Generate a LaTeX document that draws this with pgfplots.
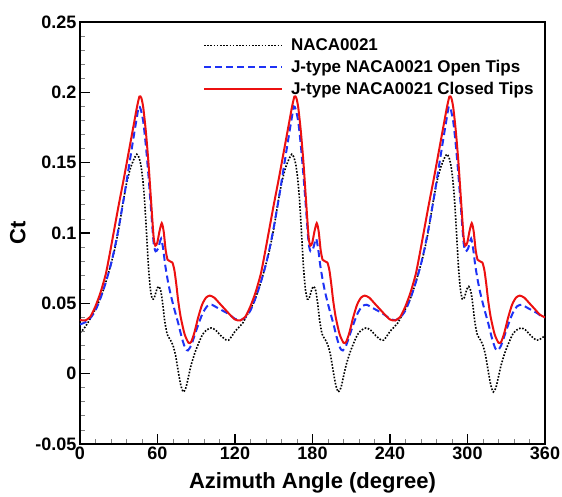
\documentclass[border=0pt]{standalone}
\usepackage{fontspec}
\setmainfont{Liberation Sans}
\usepackage{pgfplots}
\pgfplotsset{compat=1.18}
\definecolor{ctred}{RGB}{236,16,16}
\definecolor{ctblue}{RGB}{30,50,245}
\newcommand{\legfont}{\fontsize{17}{19}\selectfont\bfseries}

\begin{document}
\begin{tikzpicture}
\useasboundingbox (-80pt,-52pt) rectangle (482pt,444pt);
\begin{axis}[
    scale only axis,
    width=465pt, height=422pt,
    xmin=0, xmax=360, ymin=-0.05, ymax=0.25,
    xtick={0,60,120,180,240,300,360},
    xticklabels={0,60,120,180,240,300,360},
    ytick={-0.05,0,0.05,0.1,0.15,0.2,0.25},
    yticklabels={-0.05,0,0.05,0.1,0.15,0.2,0.25},
    minor x tick num=4, minor y tick num=4,
    xtick pos=left, ytick pos=left, tick align=inside,
    major tick length=10pt, minor tick length=5pt,
    every minor tick/.style={gray, line width=0.8pt},
    every major tick/.style={black, line width=1.6pt},
    axis line style={line width=1.6pt},
    ticklabel style={font=\fontsize{18}{18}\selectfont\bfseries},
    xticklabel style={yshift=1pt},
    xlabel={Azimuth Angle (degree)},
    ylabel={Ct},
    label style={font=\fontsize{22}{22}\selectfont\bfseries},
    xlabel style={yshift=-6pt},
    ylabel style={yshift=3pt},
    legend style={draw=none, fill=none, at={(0.262,0.968)}, anchor=north west,
        row sep=4pt, inner sep=1pt},
    legend cell align=left,
    legend image code/.code={\draw[#1] (0pt,0pt) -- (78pt,0pt);
        \path (84pt,0pt);},
]
\addplot[black, line width=1.6pt, dash pattern=on 1.6pt off 1.6pt, smooth, tension=0.4] coordinates {
(0,0.029)(3,0.032)(6,0.036)(9,0.041)(12,0.046)(16,0.054)(20,0.065)(24,0.078)(27,0.089)(30,0.103)(33,0.120)(36,0.135)(39,0.146)(42,0.153)(44,0.156)(45.5,0.154)(47,0.149)(48.5,0.139)(50,0.123)(51.5,0.100)(53,0.076)(54.5,0.060)(56,0.053)(57.5,0.054)(59.5,0.060)(61,0.062)(62.5,0.059)(64,0.050)(65.5,0.038)(67.5,0.028)(70,0.024)(72,0.020)(74,0.013)(76,0.002)(78,-0.008)(80,-0.013)(82,-0.010)(84,-0.002)(86,0.006)(89,0.015)(92,0.022)(95,0.028)(98,0.031)(101.5,0.0325)(105,0.031)(109,0.027)(113,0.024)(115,0.0238)(117,0.026)
(120,0.030)(123,0.033)(126,0.036)(129,0.041)(132,0.046)(136,0.054)(140,0.065)(144,0.078)(147,0.089)(150,0.103)(153,0.120)(156,0.135)(159,0.146)(162,0.153)(164,0.156)(165.5,0.154)(167,0.149)(168.5,0.139)(170,0.123)(171.5,0.100)(173,0.076)(174.5,0.060)(176,0.053)(177.5,0.054)(179.5,0.060)(181,0.062)(182.5,0.059)(184,0.050)(185.5,0.038)(187.5,0.028)(190,0.024)(192,0.020)(194,0.013)(196,0.002)(198,-0.008)(200,-0.013)(202,-0.010)(204,-0.002)(206,0.006)(209,0.015)(212,0.022)(215,0.028)(218,0.031)(221.5,0.0325)(225,0.031)(229,0.027)(233,0.024)(235,0.0238)(237,0.026)
(240,0.030)(243,0.033)(246,0.036)(249,0.041)(252,0.046)(256,0.054)(260,0.065)(264,0.078)(267,0.089)(270,0.103)(273,0.120)(276,0.135)(279,0.146)(282,0.153)(284,0.156)(285.5,0.154)(287,0.149)(288.5,0.139)(290,0.123)(291.5,0.100)(293,0.076)(294.5,0.060)(296,0.053)(297.5,0.054)(299.5,0.060)(301,0.062)(302.5,0.059)(304,0.050)(305.5,0.038)(307.5,0.028)(310,0.024)(312,0.020)(314,0.013)(316,0.002)(318,-0.008)(320,-0.013)(322,-0.010)(324,-0.002)(326,0.006)(329,0.015)(332,0.022)(335,0.028)(338,0.031)(341.5,0.0325)(345,0.031)(349,0.027)(353,0.024)(355,0.0238)(357,0.025)(360,0.027)
};
\addlegendentry{\legfont NACA0021}
\addplot[ctblue, line width=2pt, dash pattern=on 7pt off 4pt, smooth, tension=0.4] coordinates {
(0,0.035)(4,0.0365)(8,0.0395)(12,0.045)(16,0.054)(20,0.065)(24,0.078)(27,0.090)(30,0.104)(34,0.125)(38,0.148)(42,0.171)(44,0.182)(45.5,0.190)(47,0.188)(49,0.179)(51,0.162)(53,0.141)(55,0.117)(57,0.093)(58.5,0.087)(60.5,0.089)(62.8,0.096)(64.5,0.088)(66,0.077)(68,0.066)(70,0.057)(73,0.046)(76,0.036)(79,0.025)(81.5,0.018)(83.5,0.0165)(86,0.020)(89,0.028)(92,0.036)(95,0.043)(98.5,0.048)(102,0.049)(106,0.047)(110,0.045)(114,0.043)(117,0.041)
(120,0.039)(124,0.038)(128,0.040)(132,0.045)(136,0.054)(140,0.065)(144,0.078)(147,0.090)(150,0.104)(154,0.125)(158,0.148)(162,0.171)(164,0.182)(165.5,0.190)(167,0.188)(169,0.179)(171,0.162)(173,0.141)(175,0.117)(177,0.093)(178.5,0.087)(180.5,0.089)(182.8,0.096)(184.5,0.088)(186,0.077)(188,0.066)(190,0.057)(193,0.046)(196,0.036)(199,0.025)(201.5,0.018)(203.5,0.0165)(206,0.020)(209,0.028)(212,0.036)(215,0.043)(218.5,0.048)(222,0.049)(226,0.047)(230,0.045)(234,0.043)(237,0.041)
(240,0.039)(244,0.038)(248,0.040)(252,0.045)(256,0.054)(260,0.065)(264,0.078)(267,0.090)(270,0.104)(274,0.125)(278,0.148)(282,0.171)(284,0.182)(285.5,0.190)(287,0.188)(289,0.179)(291,0.162)(293,0.141)(295,0.117)(297,0.093)(298.5,0.087)(300.5,0.089)(302.8,0.096)(304.5,0.088)(306,0.077)(308,0.066)(310,0.057)(313,0.046)(316,0.036)(319,0.025)(321.5,0.018)(323.5,0.0165)(326,0.020)(329,0.028)(332,0.036)(335,0.043)(338.5,0.048)(342,0.049)(346,0.047)(350,0.045)(354,0.043)(357,0.041)(360,0.040)
};
\addlegendentry{\legfont J-type NACA0021 Open Tips}
\addplot[ctred, line width=2pt, smooth, tension=0.4] coordinates {
(0,0.0382)(4,0.0378)(8,0.0405)(12,0.048)(16,0.058)(20,0.071)(23,0.085)(26,0.100)(30,0.120)(34,0.139)(38,0.159)(42,0.179)(44,0.189)(46,0.197)(47.5,0.196)(49,0.189)(51,0.172)(53,0.150)(55,0.123)(57,0.097)(58.3,0.091)(59.8,0.093)(61.5,0.101)(63.3,0.107)(64.8,0.101)(66.3,0.088)(67.8,0.081)(69.5,0.080)(71.5,0.079)(73,0.074)(74.5,0.064)(76,0.052)(78,0.040)(81,0.028)(84,0.022)(86,0.0225)(88.5,0.029)(91.5,0.040)(94.5,0.049)(97.5,0.054)(100.5,0.0555)(104,0.054)(108,0.050)(112,0.046)(116,0.042)
(120,0.0385)(124,0.0378)(128,0.0405)(132,0.048)(136,0.058)(140,0.071)(143,0.085)(146,0.100)(150,0.120)(154,0.139)(158,0.159)(162,0.179)(164,0.189)(166,0.197)(167.5,0.196)(169,0.189)(171,0.172)(173,0.150)(175,0.123)(177,0.097)(178.3,0.091)(179.8,0.093)(181.5,0.101)(183.3,0.107)(184.8,0.101)(186.3,0.088)(187.8,0.081)(189.5,0.080)(191.5,0.079)(193,0.074)(194.5,0.064)(196,0.052)(198,0.040)(201,0.028)(204,0.022)(206,0.0225)(208.5,0.029)(211.5,0.040)(214.5,0.049)(217.5,0.054)(220.5,0.0555)(224,0.054)(228,0.050)(232,0.046)(236,0.042)
(240,0.0385)(244,0.0378)(248,0.0405)(252,0.048)(256,0.058)(260,0.071)(263,0.085)(266,0.100)(270,0.120)(274,0.139)(278,0.159)(282,0.179)(284,0.189)(286,0.197)(287.5,0.196)(289,0.189)(291,0.172)(293,0.150)(295,0.123)(297,0.097)(298.3,0.091)(299.8,0.093)(301.5,0.101)(303.3,0.107)(304.8,0.101)(306.3,0.088)(307.8,0.081)(309.5,0.080)(311.5,0.079)(313,0.074)(314.5,0.064)(316,0.052)(318,0.040)(321,0.028)(324,0.022)(326,0.0225)(328.5,0.029)(331.5,0.040)(334.5,0.049)(337.5,0.054)(340.5,0.0555)(344,0.054)(348,0.050)(352,0.046)(356,0.042)(360,0.040)
};
\addlegendentry{\legfont J-type NACA0021 Closed Tips}
\end{axis}
\end{tikzpicture}
\end{document}
